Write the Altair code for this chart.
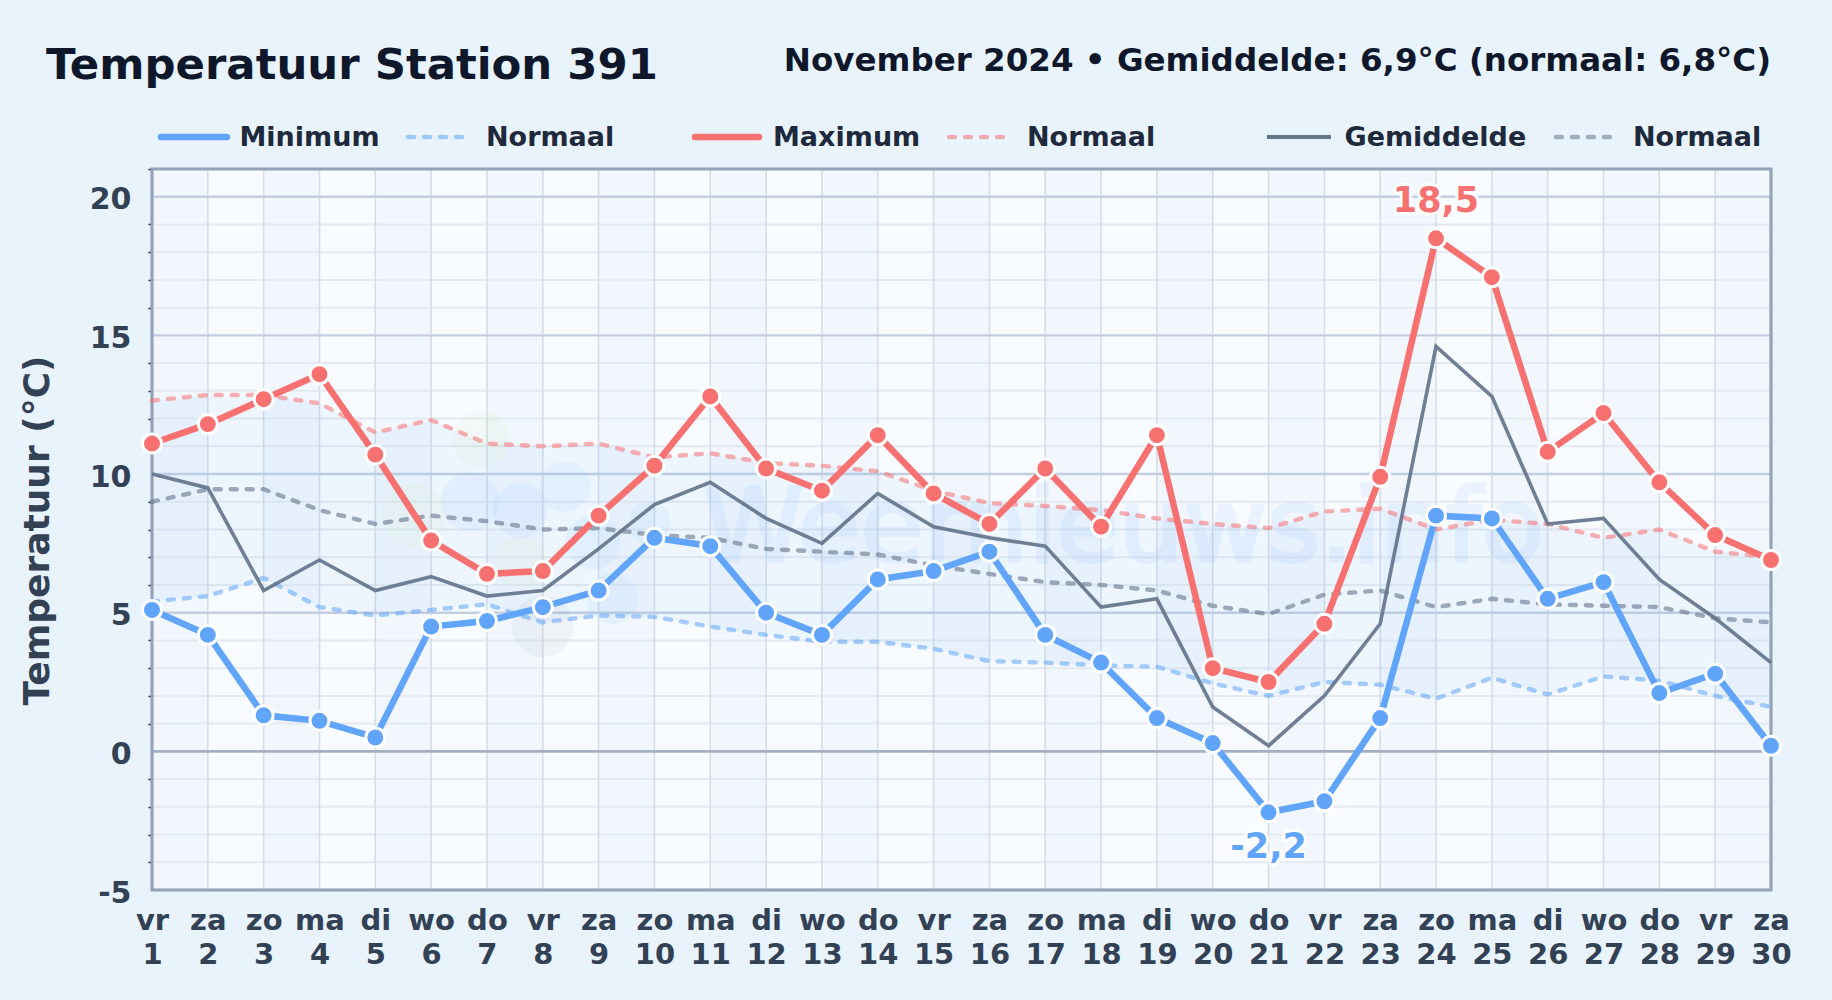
import altair as alt
import pandas as pd

days = list(range(1, 31))
weekdays = ["vr","za","zo","ma","di","wo","do","vr","za","zo","ma","di","wo","do","vr","za","zo","ma","di","wo","do","vr","za","zo","ma","di","wo","do","vr","za"]
t_min = [5.1,4.2,1.3,1.1,0.5,4.5,4.7,5.2,5.8,7.7,7.4,5.0,4.2,6.2,6.5,7.2,4.2,3.2,1.2,0.3,-2.2,-1.8,1.2,8.5,8.4,5.5,6.1,2.1,2.8,0.2]
t_max = [11.1,11.8,12.7,13.6,10.7,7.6,6.4,6.5,8.5,10.3,12.8,10.2,9.4,11.4,9.3,8.2,10.2,8.1,11.4,3.0,2.5,4.6,9.9,18.5,17.1,10.8,12.2,9.7,7.8,6.9]
t_mean = [10.0,9.5,5.8,6.9,5.8,6.3,5.6,5.8,7.3,8.9,9.7,8.4,7.5,9.3,8.1,7.7,7.4,5.2,5.5,1.6,0.2,2.0,4.6,14.6,12.8,8.2,8.4,6.2,4.8,3.2]
n_max = [12.65,12.85,12.85,12.55,11.5,11.95,11.1,11.0,11.1,10.6,10.75,10.4,10.3,10.1,9.4,8.95,8.85,8.7,8.4,8.2,8.05,8.65,8.75,8.0,8.35,8.2,7.7,8.0,7.2,7.0]
n_mean = [9.0,9.45,9.45,8.7,8.2,8.5,8.3,8.0,8.05,7.8,7.7,7.3,7.2,7.1,6.7,6.4,6.1,6.0,5.8,5.25,4.95,5.65,5.8,5.2,5.5,5.3,5.25,5.2,4.8,4.65]
n_min = [5.4,5.6,6.25,5.2,4.9,5.1,5.3,4.65,4.9,4.85,4.5,4.2,3.95,3.95,3.7,3.25,3.2,3.1,3.05,2.45,2.0,2.5,2.4,1.9,2.65,2.05,2.7,2.55,2.0,1.6]

major_y = [-5, 5, 10, 15, 20]
minor_y = [v for v in range(-5, 22) if v % 5 != 0]
band_days = days[0:29:2]

FONT = "DejaVu Sans"
PAGE = "#e8f3fc"
BLUE = "#60a5fa"
RED = "#f87171"
SLATE = "#64748b"

W, H = 1619, 721
LEFT, TOP = 152, 169

df = pd.DataFrame(dict(d=days, lo=t_min, hi=t_max, me=t_mean, nhi=n_max, nme=n_mean, nlo=n_min))
one = pd.DataFrame({"a": [0]})

xs = alt.Scale(domain=[1, 30], nice=False, zero=False)
ys = alt.Scale(domain=[-5, 21], nice=False, zero=False)

names = "['" + "','".join(weekdays) + "']"
axis_x = alt.Axis(
    values=days, title=None, grid=False, ticks=False, domain=False,
    labelExpr=f"[{names}[datum.value-1], datum.value + '']",
    labelFont=FONT, labelFontWeight="bold", labelFontSize=29, labelColor="#334155",
    labelPadding=16, labelFlush=False, labelOverlap=False, labelLineHeight=34,
)
axis_y = alt.Axis(
    values=list(range(-5, 22)), title="Temperatuur (°C)", grid=False, domain=False,
    labelExpr="datum.value % 5 == 0 ? datum.value + '' : ''",
    labelFont=FONT, labelFontWeight="bold", labelFontSize=30, labelColor="#334155",
    labelPadding=17, labelOverlap=False, labelOffset=3,
    tickSize=4, tickWidth=1.5,
    tickColor={"condition": {"test": "datum.value % 5 == 0 && datum.value < 21", "value": "transparent"}, "value": "#1e293b"},
    titleFont=FONT, titleFontWeight="bold", titleFontSize=36, titleColor="#334155",
    titleX=-96, titleY=361,
)
X = alt.X("d:Q", scale=xs, axis=axis_x)


def Y(f):
    return alt.Y(f, type="quantitative", scale=ys, axis=axis_y)


layers = []

# alternating day bands
bands = pd.DataFrame({"d": band_days, "d2": [b + 1 for b in band_days]})
layers.append(alt.Chart(bands).mark_rect(color="#7fa8e0", opacity=0.05).encode(
    x=X, x2="d2:Q", y=alt.value(0), y2=alt.value(H)))

# grid
layers.append(alt.Chart(pd.DataFrame({"v": minor_y})).mark_rule(color="#e4eaf2", strokeWidth=2).encode(y=Y("v")))
layers.append(alt.Chart(pd.DataFrame({"d": days[1:-1]})).mark_rule(color="#d5dde8", strokeWidth=1.6).encode(x=X))
layers.append(alt.Chart(pd.DataFrame({"v": major_y})).mark_rule(color="#c3cfe0", strokeWidth=2.4).encode(y=Y("v")))
layers.append(alt.Chart(pd.DataFrame({"v": [0]})).mark_rule(color="#a4afc1", strokeWidth=2.6).encode(y=Y("v")))

# normal range band
layers.append(alt.Chart(df).mark_area(color=BLUE, opacity=0.07).encode(x=X, y=Y("nhi"), y2="nlo:Q"))

# watermark logo blobs and text
blob_d = [6.9, 5.7, 7.6, 6.7, 7.6, 8.4, 8.9, 9.25, 9.9, 7.99]
blob_t = [11.25, 8.5, 6.8, 9.0, 8.7, 9.55, 7.55, 5.5, 8.25, 4.5]
blob_r = [3200, 4200, 2800, 3400, 3000, 2500, 3000, 2600, 1800, 3800]
blob_c = ["g", "g", "g", "b", "b", "c", "c", "c", "c", "s"]
blob_o = [0.09, 0.09, 0.09, 0.08, 0.08, 0.1, 0.1, 0.1, 0.1, 0.06]
blobs = pd.DataFrame({"d": blob_d, "t": blob_t, "r": blob_r, "c": blob_c, "o": blob_o})
layers.append(alt.Chart(blobs).mark_circle().encode(
    x=X, y=Y("t"),
    size=alt.Size("r:Q", scale=None, legend=None),
    opacity=alt.Opacity("o:Q", scale=None, legend=None),
    color=alt.Color("c:N", scale=alt.Scale(domain=["g", "b", "c", "s"], range=["#c6e59a", "#60a5fa", "#7cc4fa", "#64748b"]), legend=None),
))
layers.append(alt.Chart(pd.DataFrame({"d": [18.4], "t": [8.0], "s": ["Weernieuws.info"]})).mark_text(
    font=FONT, fontSize=102, color="#60a5fa", stroke="#60a5fa", strokeWidth=3.5, opacity=0.09, align="center", baseline="middle"
).encode(x=X, y=Y("t"), text="s:N"))

# frame
layers.append(alt.Chart(one).mark_rect(fill="transparent", stroke="#94a3b8", strokeWidth=3.2).encode(
    x=alt.value(0), x2=alt.value(W), y=alt.value(0), y2=alt.value(H)))

# normals
dash = [6, 10]
for col, c, op in (("nlo", BLUE, 0.55), ("nhi", RED, 0.55), ("nme", SLATE, 0.6)):
    layers.append(alt.Chart(df).mark_line(color=c, opacity=op, strokeWidth=4.4, strokeDash=dash, strokeCap="round", clip=False).encode(x=X, y=Y(col)))

# mean
layers.append(alt.Chart(df).mark_line(color=SLATE, opacity=0.92, strokeWidth=3.6, clip=False).encode(x=X, y=Y("me")))

# min / max
for col, c in (("lo", BLUE), ("hi", RED)):
    layers.append(alt.Chart(df).mark_line(color=c, strokeWidth=6.5, clip=False).encode(x=X, y=Y(col)))
    layers.append(alt.Chart(df).mark_point(filled=True, fill=c, stroke="white", strokeWidth=3, size=360, opacity=1, clip=False).encode(x=X, y=Y(col)))

# peak labels
peaks = pd.DataFrame({"d": [24], "t": [18.5], "s": ["18,5"]})
lows = pd.DataFrame({"d": [21], "t": [-2.2], "s": ["-2,2"]})
for src, c, dy in ((peaks, RED, -37), (lows, BLUE, 35)):
    base = dict(font=FONT, fontWeight="bold", fontSize=35, align="center", baseline="middle", dy=dy, clip=False)
    layers.append(alt.Chart(src).mark_text(stroke="white", strokeWidth=6, strokeJoin="round", opacity=0.9, **base).encode(x=X, y=Y("t"), text="s:N"))
    layers.append(alt.Chart(src).mark_text(color=c, **base).encode(x=X, y=Y("t"), text="s:N"))

# title and subtitle
layers.append(alt.Chart(one).mark_text(
    font=FONT, fontWeight="bold", fontSize=43.4, color="#0f172a", align="left", baseline="alphabetic"
).encode(x=alt.value(46 - LEFT), y=alt.value(79 - TOP), text=alt.value("Temperatuur Station 391")))
layers.append(alt.Chart(one).mark_text(
    font=FONT, fontWeight="bold", fontSize=32.5, color="#0f172a", align="right", baseline="alphabetic"
).encode(x=alt.value(1771 - LEFT), y=alt.value(71 - TOP), text=alt.value("November 2024 • Gemiddelde: 6,9°C (normaal: 6,8°C)")))

# legend
LEG_Y = 138
legend_labels = ["Minimum", "Normaal", "Maximum", "Normaal", "Gemiddelde", "Normaal"]
legend_colors = [BLUE, BLUE, RED, RED, SLATE, SLATE]
legend_kind = ["solid", "dash", "solid", "dash", "thin", "dash"]
legend_x0 = [159, 406, 693, 947, 1265, 1554]
legend_x1 = [229, 464, 761, 1005, 1333, 1618]
legend_tx = [239.5, 486, 773, 1027, 1344.5, 1633]
for lab, c, k, a, b, t in zip(legend_labels, legend_colors, legend_kind, legend_x0, legend_x1, legend_tx):
    props = {
        "solid": dict(strokeWidth=6.5, strokeCap="round"),
        "thin": dict(strokeWidth=4),
        "dash": dict(strokeWidth=4.4, strokeDash=dash, strokeCap="round", opacity=0.55),
    }[k]
    layers.append(alt.Chart(one).mark_rule(color=c, **props).encode(
        x=alt.value(a - LEFT + 2), x2=alt.value(b - LEFT - 2), y=alt.value(LEG_Y - TOP - 1)))
    layers.append(alt.Chart(one).mark_text(
        font=FONT, fontWeight="bold", fontSize=27, color="#1e293b", align="left", baseline="middle"
    ).encode(x=alt.value(t - LEFT), y=alt.value(LEG_Y - TOP), text=alt.value(lab)))

chart = alt.layer(*layers).resolve_scale(color="independent", size="independent").properties(
    width=W, height=H,
    padding={"left": LEFT, "top": TOP, "right": 1832 - LEFT - W, "bottom": 1000 - TOP - H},
    autosize=alt.AutoSizeParams(type="none"),
    background=PAGE,
).configure_view(fill="#f8fbff", stroke=None)

chart.save("out.html", embed_options={
    "renderer": "svg", "actions": False,
    "defaultStyle": f"html,body{{margin:0;padding:0;background:{PAGE};overflow:hidden}}",
})
